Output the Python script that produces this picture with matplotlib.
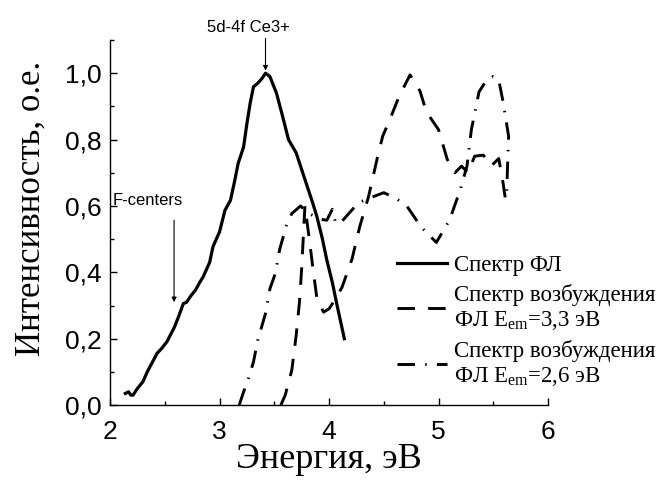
import matplotlib
matplotlib.use("Agg")
import matplotlib.pyplot as plt
from matplotlib.ticker import MultipleLocator, FuncFormatter

# спектр ФЛ
e_pl = [2.14, 2.17, 2.19, 2.21, 2.25, 2.30, 2.34, 2.38, 2.43, 2.47, 2.52, 2.59, 2.63, 2.67,
        2.70, 2.74, 2.78, 2.82, 2.85, 2.91, 2.94, 3.00, 3.05, 3.10, 3.14, 3.17, 3.22,
        3.25, 3.28, 3.31, 3.35, 3.39, 3.42, 3.46, 3.52, 3.57, 3.63, 3.70, 3.75, 3.80,
        3.85, 3.89, 3.94, 3.98, 4.03, 4.07, 4.14]
i_pl = [0.035, 0.04, 0.03, 0.03, 0.05, 0.07, 0.10, 0.125, 0.156, 0.17, 0.191, 0.236, 0.27,
        0.306, 0.31, 0.33, 0.346, 0.37, 0.386, 0.43, 0.477, 0.522, 0.587, 0.617, 0.678,
        0.728, 0.778, 0.848, 0.91, 0.959, 0.97, 0.985, 1.0, 0.99, 0.94, 0.878, 0.80, 0.76,
        0.71, 0.66, 0.61, 0.567, 0.50, 0.437, 0.37, 0.306, 0.20]

# спектр возбуждения, E_em = 3,3 эВ
e_ex1 = [3.56, 3.60, 3.66, 3.70, 3.73, 3.75, 3.78, 3.82, 3.85, 3.89, 3.95, 4.00, 4.06,
         4.12, 4.21, 4.28, 4.36, 4.44, 4.49, 4.56, 4.64, 4.74, 4.83, 4.89, 5.00, 5.08,
         5.15, 5.21, 5.27, 5.33, 5.41, 5.48, 5.55, 5.59, 5.62]
i_ex1 = [0.0, 0.03, 0.105, 0.21, 0.31, 0.41, 0.60, 0.50, 0.42, 0.32, 0.28, 0.29, 0.32,
         0.356, 0.44, 0.537, 0.627, 0.743, 0.81, 0.864, 0.93, 0.995, 0.947, 0.883, 0.83,
         0.74, 0.70, 0.72, 0.70, 0.75, 0.753, 0.72, 0.743, 0.668, 0.60]

# спектр возбуждения, E_em = 2,6 эВ
e_ex2 = [3.18, 3.22, 3.26, 3.31, 3.35, 3.42, 3.46, 3.51, 3.55, 3.61, 3.66, 3.74, 3.80,
         3.86, 3.92, 3.98, 4.03, 4.06, 4.10, 4.18, 4.27, 4.38, 4.50, 4.60, 4.71, 4.84,
         4.98, 5.10, 5.20, 5.26, 5.30, 5.37, 5.44, 5.50, 5.55, 5.59, 5.64, 5.62]
i_ex2 = [0.0, 0.04, 0.075, 0.13, 0.196, 0.276, 0.35, 0.397, 0.47, 0.54, 0.577, 0.60, 0.58,
         0.57, 0.56, 0.557, 0.59, 0.55, 0.547, 0.577, 0.61, 0.625, 0.64, 0.625, 0.60, 0.537,
         0.49, 0.557, 0.65, 0.72, 0.83, 0.944, 0.98, 0.99, 0.98, 0.913, 0.81, 0.62]

plt.rcParams['mathtext.fontset'] = 'custom'
plt.rcParams['mathtext.rm'] = 'Liberation Serif'
plt.rcParams['mathtext.it'] = 'Liberation Serif:italic'

fig = plt.figure(figsize=(6.56, 4.91), dpi=100)
ax = fig.add_axes([0.1677, 0.175, 0.6677, 0.7435])

ax.plot(e_pl, i_pl, color='black', lw=2.3, label='Спектр ФЛ')
ax.plot(e_ex1, i_ex1, color='black', lw=2.1, dashes=(6, 4.5),
        label='Спектр возбуждения\nФЛ E$_{\\mathrm{em}}$=3,3 эВ')
ax.plot(e_ex2, i_ex2, color='black', lw=2.1, dashes=(6, 3.5, 0.5, 3.5),
        label='Спектр возбуждения\nФЛ E$_{\\mathrm{em}}$=2,6 эВ')

ax.set_xlim(2, 6)
ax.set_ylim(0, 1.1)
ax.xaxis.set_major_locator(MultipleLocator(1))
ax.xaxis.set_minor_locator(MultipleLocator(0.5))
ax.yaxis.set_major_locator(MultipleLocator(0.2))
ax.yaxis.set_minor_locator(MultipleLocator(0.1))
ax.yaxis.set_major_formatter(FuncFormatter(lambda v, p: f'{v:.1f}'.replace('.', ',')))

for s in ['top', 'right']:
    ax.spines[s].set_visible(False)
for s in ['left', 'bottom']:
    ax.spines[s].set_linewidth(1.0)
ax.tick_params(which='major', direction='in', length=5, width=1.0, labelsize=19)
ax.tick_params(which='minor', direction='in', length=3, width=1.0)
ax.tick_params(axis='x', pad=11)
ax.tick_params(axis='y', pad=6)
for lab in ax.get_xticklabels() + ax.get_yticklabels():
    lab.set_family('Liberation Sans')

ax.set_xlabel('Энергия, эВ', family='Liberation Serif', fontsize=26, va='baseline')
ax.xaxis.set_label_coords(0.5, -0.172)
ax.set_ylabel('Интенсивность, о.е.', family='Liberation Serif', fontsize=25, va='center')
ax.yaxis.set_label_coords(-0.18, 0.54)

# подписи полос
ax.text(3.265, 1.115, '5d-4f Ce3+', ha='center', va='bottom',
        family='Liberation Sans', fontsize=12, clip_on=False)
ax.annotate('', xy=(3.42, 1.008), xytext=(3.42, 1.105), annotation_clip=False,
            arrowprops=dict(arrowstyle='-|>', color='black', lw=0.8,
                            mutation_scale=7, shrinkA=0, shrinkB=0))
ax.text(2.027, 0.617, 'F-centers', ha='left', va='center',
        family='Liberation Sans', fontsize=12)
ax.annotate('', xy=(2.585, 0.31), xytext=(2.585, 0.557),
            arrowprops=dict(arrowstyle='-|>', color='black', lw=0.8,
                            mutation_scale=7, shrinkA=0, shrinkB=0))

leg = ax.legend(loc='upper left', bbox_to_anchor=(0.655, 0.41), frameon=False,
                prop={'family': 'Liberation Serif', 'size': 16.5},
                handlelength=2.2, handletextpad=0.3, labelspacing=0.33,
                borderpad=0, borderaxespad=0)

plt.savefig('out.png', dpi=100)
